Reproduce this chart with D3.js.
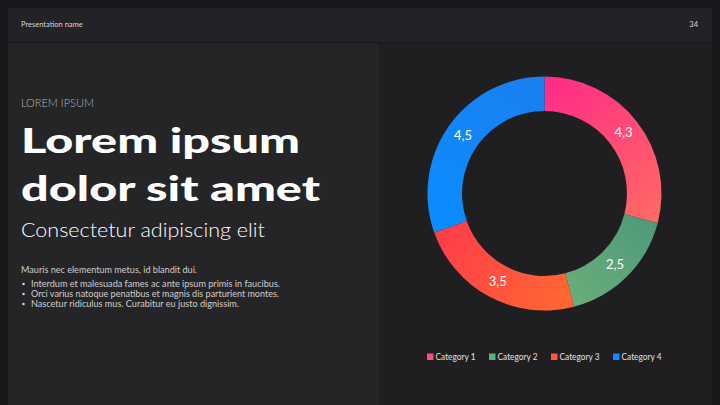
<!DOCTYPE html>
<html><head><meta charset="utf-8">
<script src="https://cdn.jsdelivr.net/npm/d3@7"></script>
<style>
html,body{margin:0;padding:0;background:#19181b;}
svg{display:block;}
</style></head>
<body>
<svg id="c" width="720" height="405"></svg>
<script>
const categories = ["Category 1", "Category 2", "Category 3", "Category 4"];
const values = [4.3, 2.5, 3.5, 4.5];
const valueLabels = ["4,3", "2,5", "3,5", "4,5"];
const colorStops = [["#ff2a88", "#ff6b63"], ["#4d9a78", "#6bad7b"], ["#ff6a30", "#ff3b4c"], ["#0a8dff", "#1b7ff0"]];
const legendColors = ["#ff4d7a", "#5fae7d", "#ff5747", "#1b86ff"];
const bullets = [
  "Interdum et malesuada fames ac ante ipsum primis in faucibus.",
  "Orci varius natoque penatibus et magnis dis parturient montes.",
  "Nascetur ridiculus mus. Curabitur eu justo dignissim."
];

const svg = d3.select("#c");
const defs = svg.append("defs");
const FONT = "Lato, 'Open Sans', sans-serif";

// frame & panels
svg.append("rect").attr("x",0).attr("y",0).attr("width",720).attr("height",405).attr("fill","#19181b");
svg.append("rect").attr("x",8).attr("y",8).attr("width",704).attr("height",34).attr("fill","#232226");
svg.append("rect").attr("x",8).attr("y",43).attr("width",370).attr("height",362).attr("fill","#252427");
svg.append("rect").attr("x",378).attr("y",43).attr("width",334).attr("height",362).attr("fill","#1f1e21");
svg.append("line").attr("x1",377.5).attr("x2",377.5).attr("y1",43).attr("y2",405).attr("stroke","#2c2b2f").attr("stroke-width",1);

// header
svg.append("text").attr("x",21).attr("y",27).attr("fill","#d8d8d8").attr("font-family",FONT).attr("font-size",7.5).text("Presentation name");
svg.append("text").attr("x",698).attr("y",27).attr("text-anchor","end").attr("fill","#d8d8d8").attr("font-family",FONT).attr("font-size",7.5).text("34");

// left text
svg.append("text").attr("x",21).attr("y",107).attr("fill","#b8b8b8").attr("font-family",FONT).attr("font-weight",300).attr("font-size",11).text("LOREM IPSUM");

svg.append("text").attr("x",21).attr("y",153).attr("fill","#ffffff").attr("font-family",FONT).attr("font-weight",900).attr("font-size",35)
  .attr("textLength",279).attr("lengthAdjust","spacingAndGlyphs").text("Lorem ipsum");
svg.append("text").attr("x",21).attr("y",201).attr("fill","#ffffff").attr("font-family",FONT).attr("font-weight",900).attr("font-size",35)
  .attr("textLength",299).attr("lengthAdjust","spacingAndGlyphs").text("dolor sit amet");
svg.append("text").attr("x",21).attr("y",237).attr("fill","#ffffff").attr("font-family",FONT).attr("font-weight",300).attr("font-size",19)
  .attr("textLength",244).attr("lengthAdjust","spacingAndGlyphs").text("Consectetur adipiscing elit");

svg.append("text").attr("x",21).attr("y",273).attr("fill","#cfcfcf").attr("font-family",FONT).attr("font-size",8.8)
  .attr("textLength",176).attr("lengthAdjust","spacingAndGlyphs").text("Mauris nec elementum metus, id blandit dui.");
const bulletW = [249, 248, 208];
bullets.forEach((b,i)=>{
  const y = 287 + i*10;
  svg.append("circle").attr("cx",23.5).attr("cy",y-3).attr("r",1.3).attr("fill","#cfcfcf");
  svg.append("text").attr("x",31).attr("y",y).attr("fill","#cfcfcf").attr("font-family",FONT).attr("font-size",8.8)
    .attr("textLength",bulletW[i]).attr("lengthAdjust","spacingAndGlyphs").text(b);
});

// donut
const cx = 544.5, cy = 193.5, rOuter = 117, rInner = 82.5;
const pie = d3.pie().sort(null).value(d=>d)(values);
const arc = d3.arc().innerRadius(rInner).outerRadius(rOuter);
const labelArc = d3.arc().innerRadius((rInner+rOuter)/2).outerRadius((rInner+rOuter)/2);
const g = svg.append("g").attr("transform",`translate(${cx},${cy})`);

pie.forEach((p,i)=>{
  const a0 = p.startAngle, a1 = p.endAngle, r = rOuter;
  const gr = defs.append("linearGradient").attr("id","g"+i).attr("gradientUnits","userSpaceOnUse")
    .attr("x1",Math.sin(a0)*r).attr("y1",-Math.cos(a0)*r).attr("x2",Math.sin(a1)*r).attr("y2",-Math.cos(a1)*r);
  gr.append("stop").attr("offset","0%").attr("stop-color",colorStops[i][0]);
  gr.append("stop").attr("offset","100%").attr("stop-color",colorStops[i][1]);
});

g.selectAll("path.slice").data(pie).enter().append("path").attr("class","slice")
  .attr("d",arc).attr("fill",(d,i)=>`url(#g${i})`);

g.selectAll("text.lbl").data(pie).enter().append("text").attr("class","lbl")
  .attr("transform",d=>`translate(${labelArc.centroid(d)})`)
  .attr("text-anchor","middle").attr("dy","0.35em")
  .attr("fill","#ffffff").attr("font-family",FONT).attr("font-size",13)
  .text((d,i)=>valueLabels[i]);

// legend
const leg = svg.append("g");
let lx = 427;
categories.forEach((c,i)=>{
  leg.append("rect").attr("x",lx).attr("y",353.5).attr("width",6.5).attr("height",6.5).attr("fill",legendColors[i]);
  const t = leg.append("text").attr("x",lx+8.5).attr("y",360).attr("fill","#e0e0e0").attr("font-family",FONT).attr("font-size",9)
    .attr("textLength",40).attr("lengthAdjust","spacingAndGlyphs").text(c);
  lx += 8.5 + 40 + 13.5;
});
</script>
</body></html>
